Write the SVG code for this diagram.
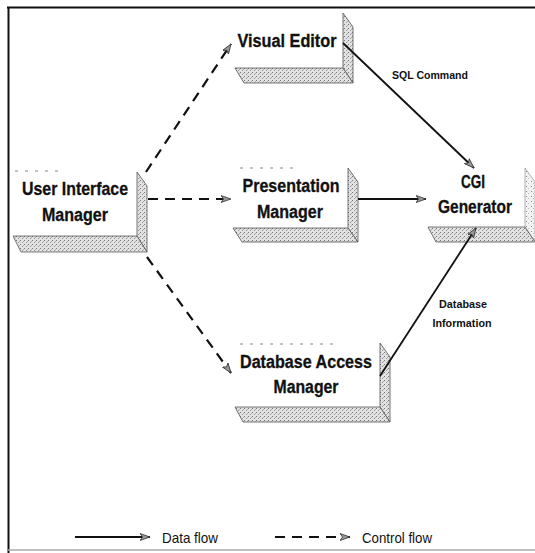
<svg xmlns="http://www.w3.org/2000/svg" width="535" height="553" viewBox="0 0 535 553">
<style>
.lbl{font-family:"Liberation Sans",Arial,sans-serif;font-weight:bold;font-size:18px;fill:#111;stroke:#111;stroke-width:0.3;text-anchor:middle}
.sm{font-family:"Liberation Sans",Arial,sans-serif;font-weight:bold;font-size:11px;fill:#111;text-anchor:middle}
.lg{font-family:"Liberation Sans",Arial,sans-serif;font-size:15px;fill:#111}
.strip{fill:url(#stip);stroke:#555;stroke-width:0.8}
.stripl{fill:url(#stipl);stroke:#888;stroke-width:0.6}
.topd{stroke:#888;stroke-width:1;stroke-dasharray:3 7;fill:none}
.ctl{stroke:#111;stroke-width:2.2;stroke-dasharray:10 7;fill:none;marker-end:url(#ah)}
.dat{stroke:#111;stroke-width:1.8;fill:none;marker-end:url(#ah)}
</style>
<defs>
<pattern id="stip" width="4" height="4" patternUnits="userSpaceOnUse">
<rect width="4" height="4" fill="#e2e2e2"/>
<rect x="0" y="0" width="1" height="1" fill="#777"/>
<rect x="2" y="2" width="1" height="1" fill="#999"/>
<rect x="3" y="1" width="1" height="1" fill="#aaa"/>
</pattern>
<pattern id="stipl" width="5" height="5" patternUnits="userSpaceOnUse">
<rect width="5" height="5" fill="#f2f2f2"/>
<rect x="1" y="1" width="1" height="1" fill="#888"/>
<rect x="3" y="3" width="1" height="1" fill="#bbb"/>
</pattern>
<marker id="ah" markerWidth="11" markerHeight="8" refX="10" refY="4" orient="auto" markerUnits="userSpaceOnUse">
<path d="M0,0.5 L10,4 L0,7.5 L2.5,4 Z" fill="#999" stroke="#333" stroke-width="0.8"/>
</marker>
</defs>
<rect width="535" height="553" fill="#fff"/>
<g id="frame">
<line x1="7" y1="7.5" x2="535" y2="7.5" stroke="#111" stroke-width="2"/>
<line x1="8.5" y1="7" x2="8.5" y2="553" stroke="#111" stroke-width="2"/>
<line x1="8" y1="550" x2="535" y2="550" stroke="#aaa" stroke-width="1.5"/>
</g>
<g id="uim">
<line class="topd" x1="15" y1="171" x2="60" y2="171"/>
<path class="strip" d="M137,172 L147,186 L147,252 L137,236 Z"/>
<path class="strip" d="M13,236 L137,236 L147,252 L21,252 Z"/>
<text class="lbl" x="75" y="195" textLength="106" lengthAdjust="spacingAndGlyphs">User Interface</text>
<text class="lbl" x="75" y="221" textLength="66" lengthAdjust="spacingAndGlyphs">Manager</text>
</g>
<g id="ve">
<path class="strip" d="M343,13 L353,27 L353,83 L343,68 Z"/>
<path class="strip" d="M235,68 L343,68 L353,83 L244,83 Z"/>
<text class="lbl" x="287" y="47" textLength="99" lengthAdjust="spacingAndGlyphs">Visual Editor</text>
</g>
<g id="pm">
<line class="topd" x1="240" y1="168" x2="295" y2="168"/>
<path class="strip" d="M348,168 L358,182 L358,242 L348,228 Z"/>
<path class="strip" d="M233,228 L348,228 L358,242 L242,242 Z"/>
<text class="lbl" x="291" y="192" textLength="97" lengthAdjust="spacingAndGlyphs">Presentation</text>
<text class="lbl" x="290" y="218" textLength="66" lengthAdjust="spacingAndGlyphs">Manager</text>
</g>
<g id="cgi">
<path class="stripl" d="M525,168 L535,182 L535,242 L525,227 Z"/>
<path class="strip" d="M428,227 L525,227 L535,242 L436,242 Z"/>
<text class="lbl" x="473" y="188" textLength="24" lengthAdjust="spacingAndGlyphs">CGI</text>
<text class="lbl" x="475" y="213" textLength="74" lengthAdjust="spacingAndGlyphs">Generator</text>
</g>
<g id="dam">
<line class="topd" x1="240" y1="344" x2="340" y2="344"/>
<path class="strip" d="M380,343 L390,357 L390,422 L380,407 Z"/>
<path class="strip" d="M235,407 L380,407 L390,422 L243,422 Z"/>
<text class="lbl" x="306" y="368" textLength="132" lengthAdjust="spacingAndGlyphs">Database Access</text>
<text class="lbl" x="306" y="393" textLength="65" lengthAdjust="spacingAndGlyphs">Manager</text>
</g>
<g id="connectors">
<path class="ctl" d="M146,172 L231,44"/>
<path class="ctl" d="M148,199 L231,199"/>
<path class="ctl" d="M147,257 L231,373"/>
<path class="dat" d="M343,43 L474,168"/>
<path class="dat" d="M358,199 L426,199" stroke-width="2.4"/>
<path class="dat" d="M380,376 L476,228"/>
<text class="sm" x="430" y="79" textLength="76" lengthAdjust="spacingAndGlyphs">SQL Command</text>
<text class="sm" x="463" y="308" textLength="48" lengthAdjust="spacingAndGlyphs">Database</text>
<text class="sm" x="462" y="327" textLength="59" lengthAdjust="spacingAndGlyphs">Information</text>
</g>
<g id="legend">
<path class="dat" d="M75,537 L150,537"/>
<text class="lg" x="162" y="543" textLength="56" lengthAdjust="spacingAndGlyphs">Data flow</text>
<path class="ctl" d="M275,537 L350,537" stroke-dasharray="10 6"/>
<text class="lg" x="362" y="543" textLength="70" lengthAdjust="spacingAndGlyphs">Control flow</text>
</g>
</svg>
